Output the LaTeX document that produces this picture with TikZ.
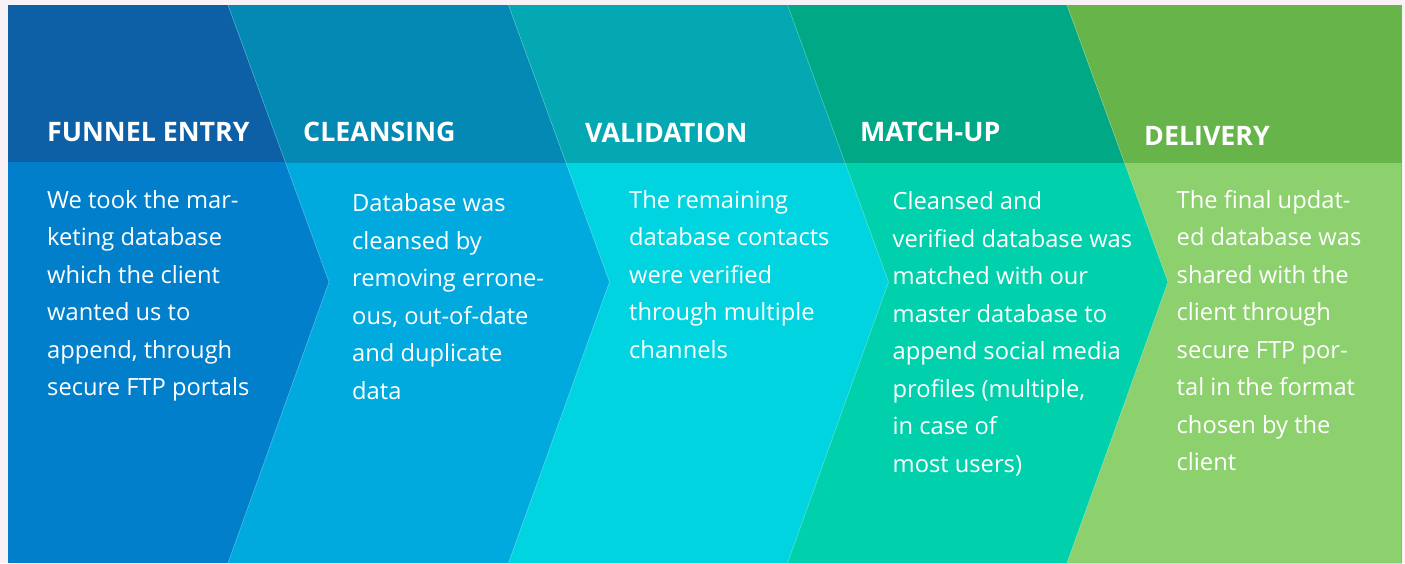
\documentclass[tikz,border=0pt]{standalone}
\usepackage{fontspec}
\setmainfont{Open Sans}
\definecolor{bgc}{HTML}{F8F1F6}
\definecolor{hA}{HTML}{0D60A5}
\definecolor{bA}{HTML}{017FCB}
\definecolor{hB}{HTML}{0389B3}
\definecolor{bB}{HTML}{00AADE}
\definecolor{hC}{HTML}{03A8B2}
\definecolor{bC}{HTML}{00D4E0}
\definecolor{hD}{HTML}{00A886}
\definecolor{bD}{HTML}{00D1AC}
\definecolor{hE}{HTML}{66B44A}
\definecolor{bE}{HTML}{8DD06E}
\tikzset{
  head/.style={anchor=base west, inner sep=0pt, text=white, font=\fontsize{26.8}{33}\selectfont\bfseries},
  body/.style={anchor=base west, inner sep=0pt, text=white, align=left, font=\fontsize{23.7}{37.5}\selectfont},
  seam/.style={white, opacity=0.3, line width=0.6pt}
}
\begin{document}
\begin{tikzpicture}[x=1pt,y=-1pt]
\fill[bgc] (0,0) rectangle (1405,563);
\useasboundingbox (0,0) rectangle (1405,563);
% first section
\fill[bA] (8,5) rectangle (1401.5,563);
\fill[hA] (8,5) rectangle (1401.5,162);
% following chevron sections
\foreach \bx/\hc/\bc in {228/hB/bB, 508.5/hC/bC, 787.5/hD/bD, 1067/hE/bE}{
  \fill[\bc] (\bx,5) -- (\bx+101,282) -- (\bx,563) -- (1401.5,563) -- (1401.5,5) -- cycle;
  \begin{scope}
    \clip (0,0) rectangle (1405,162);
    \fill[\hc] (\bx,5) -- (\bx+101,282) -- (\bx,563) -- (1401.5,563) -- (1401.5,5) -- cycle;
  \end{scope}
  \draw[seam] (\bx,5) -- (\bx+101,282) -- (\bx,563);
}
% headers
\node[head] (h1) at (47,141.7) {FUNNEL ENTRY};
\node[head] (h2) at (303,141.7) {CLEANSING};
\node[head] (h3) at (585,142.3) {VALIDATION};
\node[head] (h4) at (860,141.7) {MATCH-UP};
\node[head] (h5) at (1144,145) {DELIVERY};
% bodies (anchored at the baseline of the last line)
\node[body] (t1) at (47,395.5) {We took the mar-\\keting database\\which the client\\wanted us to\\append, through\\secure FTP portals};
\node[body] (t2) at (352,399.2) {Database was\\cleansed by\\removing errone-\\ous, out-of-date\\and duplicate\\data};
\node[body] (t3) at (629,358.3) {The remaining\\database contacts\\were verified\\through multiple\\channels};
\node[body] (t4) at (892.5,472) {Cleansed and\\verified database was\\matched with our\\master database to\\append social media\\profiles (multiple,\\in case of\\most users)};
\node[body] (t5) at (1176.5,470.5) {The final updat-\\ed database was\\shared with the\\client through\\secure FTP por-\\tal in the format\\chosen by the\\client};
\end{tikzpicture}
\end{document}
